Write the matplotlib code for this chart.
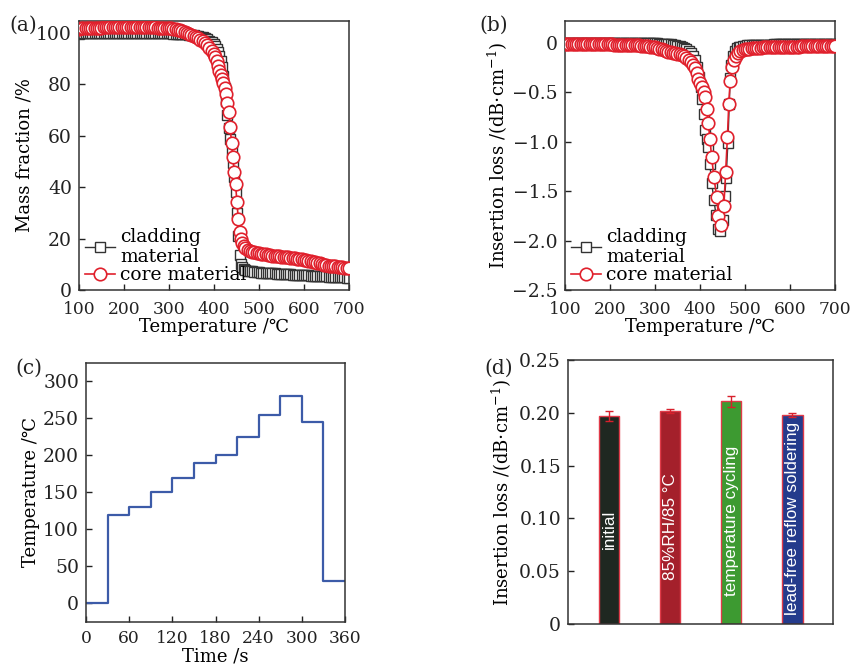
import matplotlib
matplotlib.use("Agg")
import matplotlib.pyplot as plt
from matplotlib.ticker import FuncFormatter

plt.rcParams['font.family'] = ['DejaVu Serif', 'DejaVu Sans']
plt.rcParams['mathtext.fontset'] = 'dejavuserif'
plt.rcParams['axes.linewidth'] = 1.1
plt.rcParams['xtick.direction'] = 'in'
plt.rcParams['ytick.direction'] = 'in'

# ---------------- (a) TGA mass fraction ----------------
tga_T = [100, 105, 110, 115, 120, 125, 130, 135, 140, 145,
         150, 155, 160, 165, 170, 175, 180, 185, 190, 195,
         200, 205, 210, 215, 220, 225, 230, 235, 240, 245,
         250, 255, 260, 265, 270, 275, 280, 285, 290, 295,
         300, 305, 310, 315, 320, 325, 330, 335, 340, 345,
         350, 355, 360, 365, 370, 375, 380, 385, 390, 395,
         400, 403, 406, 409, 412, 415, 418, 421, 424, 427,
         430, 433, 436, 439, 442, 445, 448, 451, 454, 457,
         460, 463, 466, 470, 475,
         480, 485, 490, 495, 500,
         505, 510, 515, 520, 525, 530, 535, 540, 545, 550,
         555, 560, 565, 570, 575, 580, 585, 590, 595, 600,
         605, 610, 615, 620, 625, 630, 635, 640, 645, 650,
         655, 660, 665, 670, 675, 680, 685, 690, 695, 700]
tga_core = [101.5, 101.6, 101.6, 101.7, 101.7, 101.8, 101.8, 101.8, 101.9, 101.9,
            101.9, 102.0, 102.0, 102.0, 102.0, 102.0, 102.1, 102.1, 102.1, 102.1,
            102.1, 102.1, 102.1, 102.1, 102.1, 102.1, 102.1, 102.1, 102.0, 102.0,
            102.0, 102.0, 102.0, 102.0, 102.0, 101.9, 101.9, 101.9, 101.8, 101.8,
            101.7, 101.6, 101.5, 101.3, 101.1, 100.9, 100.6, 100.3, 100.0, 99.6,
            99.2, 98.8, 98.3, 97.8, 97.2, 96.6, 95.8, 95.0, 94.0, 92.9,
            91.8, 90.6, 89.0, 87.0, 85.0, 83.5, 82.0, 80.5, 78.5, 76.0,
            72.5, 69.0, 63.5, 57.0, 51.5, 46.0, 41.0, 34.0, 27.5, 22.5,
            20.0, 18.4, 17.2, 16.2, 15.5,
            15.0, 14.8, 14.6, 14.4, 14.2,
            14.0, 13.9, 13.8, 13.7, 13.6, 13.4, 13.3, 13.2, 13.1, 13.0,
            12.9, 12.8, 12.7, 12.6, 12.4, 12.3, 12.2, 12.0, 11.9, 11.7,
            11.5, 11.3, 11.1, 10.9, 10.7, 10.5, 10.3, 10.1, 9.9, 9.7,
            9.5, 9.4, 9.3, 9.2, 9.1, 9.0, 8.9, 8.7, 8.6, 8.4]
tga_clad = [99.6, 99.7, 99.7, 99.7, 99.7, 99.8, 99.8, 99.8, 99.8, 99.8,
            99.8, 99.8, 99.8, 99.8, 99.8, 99.8, 99.8, 99.8, 99.8, 99.8,
            99.8, 99.8, 99.8, 99.8, 99.8, 99.8, 99.8, 99.8, 99.8, 99.8,
            99.8, 99.8, 99.8, 99.8, 99.8, 99.8, 99.8, 99.7, 99.7, 99.7,
            99.7, 99.7, 99.6, 99.6, 99.6, 99.5, 99.5, 99.4, 99.3, 99.2,
            99.1, 99.0, 98.8, 98.6, 98.4, 98.1, 97.8, 97.4, 96.9, 96.3,
            95.6, 94.8, 93.8, 92.5, 91.0, 89.0, 86.5, 83.0, 78.5, 73.5,
            68.0, 63.0, 58.5, 54.5, 49.5, 44.0, 38.0, 30.0, 21.0, 13.5,
            10.0, 8.8, 8.2, 7.8, 7.5,
            7.3, 7.2, 7.1, 7.0, 6.9,
            6.8, 6.7, 6.7, 6.6, 6.6, 6.5, 6.5, 6.4, 6.4, 6.3,
            6.2, 6.2, 6.1, 6.1, 6.0, 6.0, 5.9, 5.9, 5.8, 5.8,
            5.7, 5.7, 5.6, 5.6, 5.5, 5.5, 5.4, 5.4, 5.3, 5.3,
            5.2, 5.2, 5.1, 5.1, 5.0, 5.0, 4.9, 4.9, 4.8, 4.8]

# ---------------- (b) insertion loss vs temperature ----------------
il_core_T = [100, 105, 110, 115, 120, 125, 130, 135, 140, 145,
             150, 155, 160, 165, 170, 175, 180, 185, 190, 195,
             200, 205, 210, 215, 220, 225, 230, 235, 240, 245,
             250, 255, 260, 265, 270, 275, 280, 285, 290, 295,
             300, 305, 310, 315, 320, 325, 330, 335, 340, 345,
             350, 355, 360, 365, 370, 375, 380, 385, 390,
             393, 396, 400, 404, 408, 411, 415, 418.5, 422, 426,
             431, 437, 441, 446, 453, 457, 461, 464, 467, 472,
             476, 480, 485, 490, 495,
             500, 505, 510, 515, 520, 525, 530, 535, 540, 545,
             550, 555, 560, 565, 570, 575, 580, 585, 590, 595,
             600, 605, 610, 615, 620, 625, 630, 635, 640, 645,
             650, 655, 660, 665, 670, 675, 680, 685, 690, 695, 700]
il_core = [-0.010, -0.010, -0.010, -0.011, -0.011, -0.012, -0.012, -0.012, -0.013, -0.013,
           -0.013, -0.014, -0.014, -0.014, -0.015, -0.015, -0.015, -0.016, -0.016, -0.016,
           -0.017, -0.017, -0.018, -0.018, -0.019, -0.019, -0.020, -0.020, -0.021, -0.022,
           -0.023, -0.024, -0.025, -0.026, -0.028, -0.030, -0.032, -0.035, -0.038, -0.042,
           -0.047, -0.053, -0.060, -0.068, -0.076, -0.083, -0.089, -0.094, -0.099, -0.104,
           -0.110, -0.117, -0.126, -0.138, -0.153, -0.172, -0.195, -0.225, -0.260,
           -0.31, -0.37, -0.41, -0.45, -0.50, -0.55, -0.67, -0.81, -0.97, -1.16,
           -1.36, -1.56, -1.75, -1.84, -1.65, -1.31, -0.95, -0.62, -0.39, -0.25,
           -0.17, -0.13, -0.10, -0.085, -0.075,
           -0.068, -0.064, -0.060, -0.057, -0.055, -0.053, -0.051, -0.049, -0.047, -0.046,
           -0.045, -0.044, -0.043, -0.043, -0.042, -0.042, -0.041, -0.041, -0.040, -0.040,
           -0.040, -0.039, -0.039, -0.038, -0.038, -0.037, -0.037, -0.036, -0.036, -0.035,
           -0.035, -0.035, -0.034, -0.034, -0.034, -0.034, -0.033, -0.033, -0.033, -0.033, -0.033]

il_clad_T = [100, 105, 110, 115, 120, 125, 130, 135, 140, 145,
             150, 155, 160, 165, 170, 175, 180, 185, 190, 195,
             200, 205, 210, 215, 220, 225, 230, 235, 240, 245,
             250, 255, 260, 265, 270, 275, 280, 285, 290, 295,
             300, 305, 310, 315, 320, 325, 330, 335, 340, 345,
             350, 355, 360, 365, 370, 375, 380, 385, 390,
             394, 398, 402, 405, 408, 411, 415, 418.5, 422, 426,
             431, 435.5, 440, 445, 451, 455, 458, 462, 465, 467,
             470, 474, 478, 482, 486, 490, 495,
             500, 505, 510, 515, 520, 525, 530, 535, 540, 545,
             550, 555, 560, 565, 570, 575, 580, 585, 590, 595,
             600, 605, 610, 615, 620, 625, 630, 635, 640, 645,
             650, 655, 660, 665, 670, 675, 680, 685, 690, 695, 700]
il_clad = [0.000, 0.000, 0.000, 0.000, 0.000, -0.001, -0.001, -0.001, -0.001, -0.001,
           -0.001, -0.001, -0.002, -0.002, -0.002, -0.002, -0.002, -0.002, -0.003, -0.003,
           -0.003, -0.003, -0.003, -0.003, -0.003, -0.004, -0.004, -0.004, -0.004, -0.004,
           -0.004, -0.004, -0.005, -0.005, -0.005, -0.005, -0.005, -0.005, -0.005, -0.005,
           -0.006, -0.007, -0.008, -0.009, -0.010, -0.012, -0.014, -0.017, -0.020, -0.024,
           -0.029, -0.035, -0.043, -0.053, -0.066, -0.083, -0.105, -0.135, -0.175,
           -0.25, -0.35, -0.45, -0.57, -0.72, -0.88, -0.97, -1.05, -1.23, -1.42,
           -1.59, -1.74, -1.88, -1.90, -1.79, -1.55, -1.37, -1.01, -0.62, -0.36,
           -0.22, -0.13, -0.08, -0.055, -0.045, -0.038, -0.032,
           -0.028, -0.026, -0.025, -0.024, -0.023, -0.022, -0.021, -0.020, -0.020, -0.019,
           -0.019, -0.018, -0.018, -0.017, -0.017, -0.016, -0.016, -0.016, -0.015, -0.015,
           -0.015, -0.014, -0.014, -0.014, -0.013, -0.013, -0.013, -0.012, -0.012, -0.012,
           -0.012, -0.011, -0.011, -0.011, -0.011, -0.010, -0.010, -0.010, -0.010, -0.010, -0.010]

# ---------------- (c) reflow temperature profile ----------------
step_time = [0, 30, 60, 90, 120, 150, 180, 210, 240, 270, 300, 330, 360]
step_temp = [0, 120, 130, 150, 170, 190, 200, 225, 255, 280, 245, 30, 30]

# ---------------- (d) reliability tests ----------------
tests = ["initial", "85%RH/85 °C", "temperature cycling", "lead-free reflow soldering"]
loss_mean = [0.197, 0.2015, 0.211, 0.198]
loss_err = [0.0048, 0.002, 0.0052, 0.0022]

# style
RED = "#e0202c"
BLACK = "#333333"
BLUE = "#3c5ba8"
bar_colors = ["#1f2821", "#a4202b", "#3d9a31", "#243b8c"]
label_y = [0.090, 0.092, 0.098, 0.0995]
FS = 13        # axis labels / legend
TFS = 13.5     # y tick labels
XFS = 12.3     # x tick labels

fig = plt.figure(figsize=(8.51, 6.65), dpi=100)

ax_a = fig.add_axes([0.0928, 0.5639, 0.3173, 0.4045])
ax_b = fig.add_axes([0.6639, 0.5639, 0.3173, 0.4045])
ax_c = fig.add_axes([0.1011, 0.0647, 0.3043, 0.3895])
ax_d = fig.add_axes([0.6675, 0.0617, 0.3114, 0.3970])

for ax in (ax_a, ax_b, ax_c, ax_d):
    ax.tick_params(labelsize=TFS, length=4, width=1, colors="#222222", pad=5)
    ax.tick_params(axis="x", pad=8, labelsize=XFS)
    for s in ax.spines.values():
        s.set_color("#333333")


def plot_pair(ax, xc, yc, xr, yr):
    ax.plot(xc, yc, "-s", color=BLACK, lw=1.0, ms=7.5, mew=1.0,
            mfc="white", label="cladding\nmaterial", zorder=2)
    ax.plot(xr, yr, "-o", color=RED, lw=1.2, ms=9, mew=1.2,
            mfc="white", label="core material", zorder=3)
    ax.legend(loc="lower left", frameon=False, fontsize=13.5,
              handlelength=1.6, handletextpad=0.3, labelspacing=0.0,
              borderaxespad=0.1, borderpad=0.2)


# (a)
plot_pair(ax_a, tga_T, tga_clad, tga_T, tga_core)
ax_a.set_xlim(100, 700)
ax_a.set_ylim(0, 104.5)
ax_a.set_xticks([100, 200, 300, 400, 500, 600, 700])
ax_a.set_yticks([0, 20, 40, 60, 80, 100])
ax_a.set_xlabel("Temperature /℃", fontsize=FS, labelpad=0)
ax_a.set_ylabel("Mass fraction /%", fontsize=FS, labelpad=2)

# (b)
plot_pair(ax_b, il_clad_T, il_clad, il_core_T, il_core)
ax_b.set_xlim(100, 700)
ax_b.set_ylim(-2.5, 0.22)
ax_b.set_xticks([100, 200, 300, 400, 500, 600, 700])
ax_b.set_yticks([0, -0.5, -1.0, -1.5, -2.0, -2.5])
ax_b.yaxis.set_major_formatter(FuncFormatter(
    lambda v, p: "0" if abs(v) < 1e-9 else f"{v:.1f}".replace("-", "\u2212")))
ax_b.set_xlabel("Temperature /℃", fontsize=FS, labelpad=0)
ax_b.set_ylabel(r"Insertion loss /(dB$\cdot$cm$^{-1}$)", fontsize=FS, labelpad=2)

# (c)
ax_c.step(step_time, step_temp, where="post", color=BLUE, lw=1.6)
ax_c.set_xlim(0, 360)
ax_c.set_ylim(-25, 325)
ax_c.set_xticks([0, 60, 120, 180, 240, 300, 360])
ax_c.set_yticks([0, 50, 100, 150, 200, 250, 300])
ax_c.tick_params(axis="x", pad=6)
ax_c.set_xlabel("Time /s", fontsize=FS, labelpad=0)
ax_c.set_ylabel("Temperature /℃", fontsize=FS, labelpad=2)

# (d)
pos = [1, 2, 3, 4]
ax_d.bar(pos, loss_mean, width=0.34, color=bar_colors, edgecolor="#e03a48",
         linewidth=1.0, zorder=2)
ax_d.errorbar(pos, loss_mean, yerr=loss_err, fmt="none", ecolor="#d8202c",
              elinewidth=1.0, capsize=3, capthick=1.0, zorder=3)
for x, name, yy in zip(pos, tests, label_y):
    ax_d.text(x, yy, name, rotation=90, ha="center", va="center",
              color="white", fontsize=12.3, family="Liberation Sans", zorder=4)
ax_d.set_xlim(0.33, 4.67)
ax_d.set_ylim(0, 0.25)
ax_d.set_xticks([])
ax_d.set_yticks([0, 0.05, 0.10, 0.15, 0.20, 0.25])
ax_d.yaxis.set_major_formatter(FuncFormatter(
    lambda v, p: "0" if abs(v) < 1e-9 else f"{v:.2f}"))
ax_d.tick_params(right=False, top=False)
ax_d.set_ylabel(r"Insertion loss /(dB$\cdot$cm$^{-1}$)", fontsize=FS, labelpad=4)

# panel tags
fig.text(0.011, 0.953, "(a)", fontsize=14.5, color="#222222")
fig.text(0.563, 0.953, "(b)", fontsize=14.5, color="#222222")
fig.text(0.018, 0.438, "(c)", fontsize=14.5, color="#222222")
fig.text(0.569, 0.438, "(d)", fontsize=14.5, color="#222222")

fig.savefig("out.png", dpi=100)
